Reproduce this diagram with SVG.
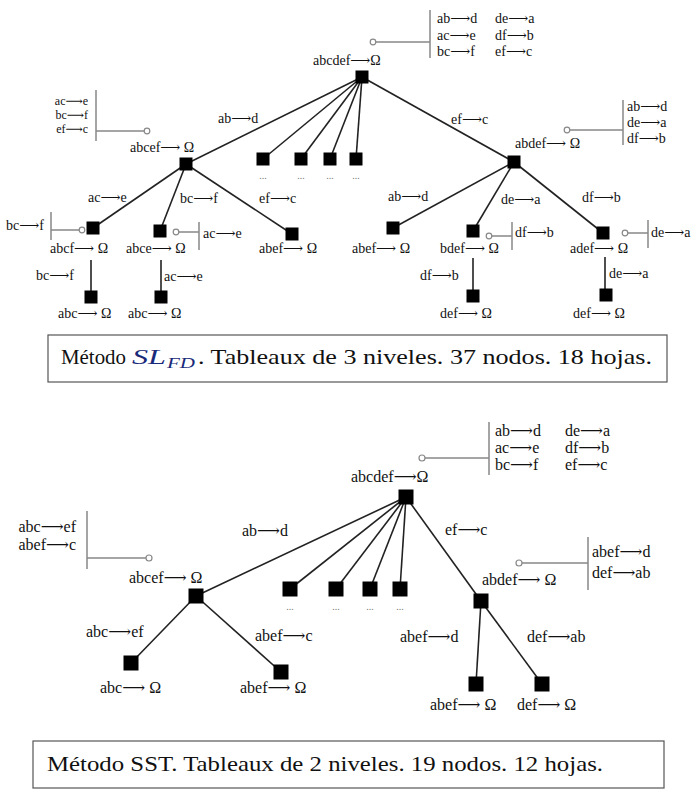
<svg xmlns="http://www.w3.org/2000/svg" width="697" height="796" viewBox="0 0 697 796">
<style>
text{font-family:"Liberation Serif","DejaVu Serif",serif;fill:#111}
.s{font-size:14px}
.t{font-size:12px}
.b{font-size:16px}
.e{stroke:#222;stroke-width:1.6;fill:none}
.g{stroke:#888;stroke-width:1.5;fill:none}
.c{fill:#fff;stroke:#888;stroke-width:1.2}
.d{font-size:10px;fill:#777}
.cap{font-size:21px}
.box{fill:#fff;stroke:#555;stroke-width:1.2}
</style>
<defs>
<rect id="sq" x="-6.5" y="-6.5" width="13" height="13" fill="#000"/>
<rect id="sqb" x="-7.5" y="-7.5" width="15" height="15" fill="#000"/>
</defs>
<rect width="697" height="796" fill="#fff"/>

<g id="connectors">
<line class="e" x1="362" y1="77" x2="186" y2="164"/>
<line class="e" x1="362" y1="77" x2="263" y2="159"/>
<line class="e" x1="362" y1="77" x2="301" y2="159"/>
<line class="e" x1="362" y1="77" x2="330" y2="159"/>
<line class="e" x1="362" y1="77" x2="356" y2="159"/>
<line class="e" x1="362" y1="77" x2="514" y2="162"/>
<line class="e" x1="186" y1="164" x2="93" y2="228"/>
<line class="e" x1="186" y1="164" x2="160" y2="231"/>
<line class="e" x1="186" y1="164" x2="292" y2="234"/>
<line class="e" x1="91" y1="260" x2="91" y2="297"/>
<line class="e" x1="161" y1="260" x2="161" y2="297"/>
<line class="e" x1="514" y1="162" x2="393" y2="228"/>
<line class="e" x1="514" y1="162" x2="473" y2="231"/>
<line class="e" x1="514" y1="162" x2="603" y2="233"/>
<line class="e" x1="473" y1="258" x2="473" y2="296"/>
<line class="e" x1="605" y1="257" x2="605" y2="295"/>

<line class="e" x1="406" y1="497" x2="196" y2="596"/>
<line class="e" x1="406" y1="497" x2="290" y2="589"/>
<line class="e" x1="406" y1="497" x2="336" y2="589"/>
<line class="e" x1="406" y1="497" x2="370" y2="589"/>
<line class="e" x1="406" y1="497" x2="400" y2="589"/>
<line class="e" x1="406" y1="497" x2="481" y2="601"/>
<line class="e" x1="196" y1="596" x2="131" y2="663"/>
<line class="e" x1="196" y1="596" x2="281" y2="672"/>
<line class="e" x1="481" y1="601" x2="476" y2="684"/>
<line class="e" x1="481" y1="601" x2="542" y2="684"/>
</g>

<g id="edge-labels">
<text class="s" x="218" y="123">ab⟶d</text>
<text class="s" x="451" y="124">ef⟶c</text>
<text class="s" x="88" y="202">ac⟶e</text>
<text class="s" x="180" y="203">bc⟶f</text>
<text class="s" x="259" y="203">ef⟶c</text>
<text class="s" x="36" y="280">bc⟶f</text>
<text class="s" x="164" y="281">ac⟶e</text>
<text class="s" x="388" y="201">ab⟶d</text>
<text class="s" x="501" y="204">de⟶a</text>
<text class="s" x="582" y="202">df⟶b</text>
<text class="s" x="420" y="280">df⟶b</text>
<text class="s" x="609" y="278">de⟶a</text>

<text class="b" x="242" y="536">ab⟶d</text>
<text class="b" x="445" y="535">ef⟶c</text>
<text class="b" x="86" y="637">abc⟶ef</text>
<text class="b" x="255" y="641">abef⟶c</text>
<text class="b" x="400" y="642">abef⟶d</text>
<text class="b" x="527" y="642">def⟶ab</text>
</g>

<!-- Top tree -->
<g id="t-root">
<use href="#sq" x="362" y="77"/>
<text class="s" x="313" y="65">abcdef⟶Ω</text>
<circle class="c" cx="373" cy="42" r="2.8"/>
<path class="g" d="M376 42H430M430 10V58"/>
<text class="s" x="437" y="23">ab⟶d</text>
<text class="s" x="437" y="40">ac⟶e</text>
<text class="s" x="437" y="56">bc⟶f</text>
<text class="s" x="495" y="23">de⟶a</text>
<text class="s" x="495" y="40">df⟶b</text>
<text class="s" x="495" y="56">ef⟶c</text>
</g>
<g id="t-abcef">
<use href="#sq" x="186" y="164"/>
<text class="s" x="130" y="152">abcef⟶ Ω</text>
<circle class="c" cx="147" cy="131" r="2.8"/>
<path class="g" d="M144 131H96M96 90V141"/>
<text class="t" x="88" y="105" text-anchor="end">ac⟶e</text>
<text class="t" x="88" y="119" text-anchor="end">bc⟶f</text>
<text class="t" x="88" y="133" text-anchor="end">ef⟶c</text>
</g>
<g id="t-m1"><use href="#sq" x="263" y="159"/><text class="d" x="263" y="179" text-anchor="middle">...</text></g>
<g id="t-m2"><use href="#sq" x="301" y="159"/><text class="d" x="301" y="179" text-anchor="middle">...</text></g>
<g id="t-m3"><use href="#sq" x="330" y="159"/><text class="d" x="330" y="179" text-anchor="middle">...</text></g>
<g id="t-m4"><use href="#sq" x="356" y="159"/><text class="d" x="356" y="179" text-anchor="middle">...</text></g>
<g id="t-abdef">
<use href="#sq" x="514" y="162"/>
<text class="s" x="515" y="148">abdef⟶ Ω</text>
<circle class="c" cx="567" cy="130" r="2.8"/>
<path class="g" d="M570 130H623M623 100V145"/>
<text class="s" x="627" y="111">ab⟶d</text>
<text class="s" x="627" y="127">de⟶a</text>
<text class="s" x="627" y="143">df⟶b</text>
</g>
<g id="t-abcf">
<use href="#sq" x="93" y="228"/>
<text class="s" x="50" y="253">abcf⟶ Ω</text>
<circle class="c" cx="82" cy="230" r="2.8"/>
<path class="g" d="M79 230H51M51 212V240"/>
<text class="s" x="44" y="230" text-anchor="end">bc⟶f</text>
</g>
<g id="t-abce">
<use href="#sq" x="160" y="231"/>
<text class="s" x="126" y="253">abce⟶ Ω</text>
<circle class="c" cx="176" cy="232" r="2.8"/>
<path class="g" d="M179 232H199M199 222V250"/>
<text class="s" x="203" y="238">ac⟶e</text>
</g>
<g id="t-abef1">
<use href="#sq" x="292" y="234"/>
<text class="s" x="259" y="253">abef⟶ Ω</text>
</g>
<g id="t-abc1"><use href="#sq" x="91" y="297"/><text class="s" x="58" y="318">abc⟶ Ω</text></g>
<g id="t-abc2"><use href="#sq" x="161" y="297"/><text class="s" x="128" y="318">abc⟶ Ω</text></g>
<g id="t-abef2">
<use href="#sq" x="393" y="228"/>
<text class="s" x="352" y="253">abef⟶ Ω</text>
</g>
<g id="t-bdef">
<use href="#sq" x="473" y="231"/>
<text class="s" x="440" y="253">bdef⟶ Ω</text>
<circle class="c" cx="489" cy="236" r="2.8"/>
<path class="g" d="M492 236H512M512 222V250"/>
<text class="s" x="515" y="237">df⟶b</text>
</g>
<g id="t-adef">
<use href="#sq" x="603" y="233"/>
<text class="s" x="570" y="253">adef⟶ Ω</text>
<circle class="c" cx="625" cy="233" r="2.8"/>
<path class="g" d="M628 233H648M648 220V248"/>
<text class="s" x="651" y="237">de⟶a</text>
</g>
<g id="t-def1"><use href="#sq" x="473" y="296"/><text class="s" x="440" y="318">def⟶ Ω</text></g>
<g id="t-def2"><use href="#sq" x="606" y="295"/><text class="s" x="573" y="318">def⟶ Ω</text></g>

<g id="caption1">
<rect class="box" x="48" y="335" width="619" height="47"/>
<text class="cap" x="61" y="364" textLength="65" lengthAdjust="spacingAndGlyphs">Método</text>
<text x="132" y="364" font-size="20" font-style="italic" style="fill:#1a2a7a" textLength="34" lengthAdjust="spacingAndGlyphs">SL</text>
<text x="167" y="368" font-size="14" font-style="italic" style="fill:#1a2a7a" textLength="28" lengthAdjust="spacingAndGlyphs">FD</text>
<text class="cap" x="198" y="364" textLength="454" lengthAdjust="spacingAndGlyphs">. Tableaux de 3 niveles. 37 nodos. 18 hojas.</text>
</g>

<!-- Bottom tree -->
<g id="b-root">
<use href="#sqb" x="406" y="497"/>
<text class="b" x="351" y="482">abcdef⟶Ω</text>
<circle class="c" cx="422" cy="458" r="3"/>
<path class="g" d="M425 458H489M489 422V475"/>
<text class="b" x="495" y="436">ab⟶d</text>
<text class="b" x="495" y="453">ac⟶e</text>
<text class="b" x="495" y="470">bc⟶f</text>
<text class="b" x="565" y="436">de⟶a</text>
<text class="b" x="565" y="453">df⟶b</text>
<text class="b" x="565" y="470">ef⟶c</text>
</g>
<g id="b-abcef">
<use href="#sqb" x="196" y="596"/>
<text class="b" x="129" y="583">abcef⟶ Ω</text>
<circle class="c" cx="149" cy="558" r="3"/>
<path class="g" d="M146 558H87M87 511V569"/>
<text class="b" x="76" y="532" text-anchor="end">abc⟶ef</text>
<text class="b" x="76" y="550" text-anchor="end">abef⟶c</text>
</g>
<g id="b-m1"><use href="#sqb" x="290" y="589"/><text class="d" x="290" y="610" text-anchor="middle">...</text></g>
<g id="b-m2"><use href="#sqb" x="336" y="589"/><text class="d" x="336" y="610" text-anchor="middle">...</text></g>
<g id="b-m3"><use href="#sqb" x="370" y="589"/><text class="d" x="370" y="610" text-anchor="middle">...</text></g>
<g id="b-m4"><use href="#sqb" x="400" y="589"/><text class="d" x="400" y="610" text-anchor="middle">...</text></g>
<g id="b-abdef">
<use href="#sqb" x="481" y="601"/>
<text class="b" x="482" y="585">abdef⟶ Ω</text>
<circle class="c" cx="519" cy="563" r="3"/>
<path class="g" d="M522 563H588M588 537V590"/>
<text class="b" x="592" y="557">abef⟶d</text>
<text class="b" x="592" y="578">def⟶ab</text>
</g>
<g id="b-abc"><use href="#sqb" x="131" y="663"/><text class="b" x="100" y="693">abc⟶ Ω</text></g>
<g id="b-abef1"><use href="#sqb" x="281" y="672"/><text class="b" x="240" y="693">abef⟶ Ω</text></g>
<g id="b-abef2"><use href="#sqb" x="476" y="684"/><text class="b" x="430" y="710">abef⟶ Ω</text></g>
<g id="b-def"><use href="#sqb" x="542" y="684"/><text class="b" x="517" y="710">def⟶ Ω</text></g>

<g id="caption2">
<rect class="box" x="33" y="741" width="631" height="47"/>
<text class="cap" x="47" y="771" textLength="556" lengthAdjust="spacingAndGlyphs">Método SST. Tableaux de 2 niveles. 19 nodos. 12 hojas.</text>
</g>
</svg>
